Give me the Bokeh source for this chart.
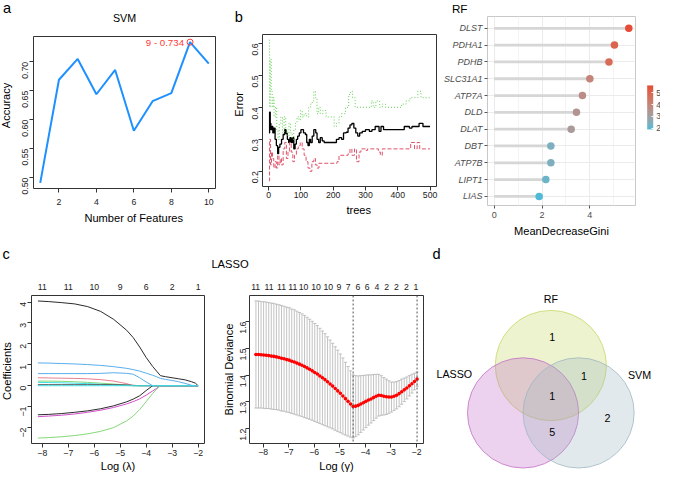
import numpy as np
from math import pi
from bokeh.plotting import figure
from bokeh.layouts import row, column
from bokeh.models import (Range1d, FixedTicker, NumeralTickFormatter, Label, LinearAxis,
                          ColumnDataSource, Span, LinearColorMapper, ColorBar,
                          CustomJSTickFormatter)
from bokeh.core.properties import value
from bokeh.embed import file_html
from bokeh.resources import INLINE

# ------------------------------------------------------------------ data
svm_features = [1, 2, 3, 4, 5, 6, 7, 8, 9, 10]
svm_accuracy = [0.491, 0.669, 0.705, 0.644, 0.686, 0.581, 0.632, 0.646, 0.734, 0.697]

oob_trees = [1, 3, 5, 7, 10, 13, 16, 20, 24, 28, 31, 35, 40, 45, 50, 54, 58, 62, 66, 70,
             74, 78, 82, 86, 90, 95, 100, 108, 114, 118, 122, 126, 130, 135, 140, 146, 150,
             155, 160, 166, 172, 210, 218, 226, 232, 240, 246, 252, 258, 264, 270, 276, 282,
             290, 300, 312, 320, 330, 342, 348, 356, 366, 420, 436, 444, 456, 466, 478, 500]
oob_err = [0.320, 0.385, 0.350, 0.330, 0.340, 0.320, 0.335, 0.300, 0.280, 0.255, 0.275, 0.285,
           0.300, 0.315, 0.330, 0.318, 0.300, 0.290, 0.305, 0.290, 0.305, 0.270, 0.285, 0.300,
           0.310, 0.320, 0.330, 0.320, 0.315, 0.290, 0.280, 0.300, 0.290, 0.310, 0.330, 0.320,
           0.300, 0.290, 0.305, 0.295, 0.290, 0.300, 0.305, 0.300, 0.320, 0.322, 0.335, 0.345,
           0.350, 0.335, 0.320, 0.310, 0.320, 0.325, 0.330, 0.325, 0.330, 0.340, 0.325, 0.340,
           0.330, 0.330, 0.340, 0.335, 0.340, 0.340, 0.350, 0.340, 0.340]

cls1_trees = [1, 3, 6, 9, 12, 16, 20, 24, 28, 32, 36, 40, 45, 50, 55, 60, 65, 70, 75, 80, 86,
              92, 98, 104, 110, 116, 122, 128, 134, 140, 145, 150, 156, 212, 218, 246, 252, 258,
              266, 272, 280, 286, 300, 306, 340, 346, 352, 440, 452, 460, 468, 500]
cls1_err = [0.170, 0.300, 0.220, 0.260, 0.240, 0.210, 0.230, 0.210, 0.250, 0.220, 0.240, 0.220,
            0.270, 0.290, 0.240, 0.260, 0.290, 0.260, 0.230, 0.250, 0.270, 0.280, 0.290, 0.270,
            0.250, 0.230, 0.210, 0.200, 0.230, 0.240, 0.220, 0.210, 0.225, 0.230, 0.250, 0.255,
            0.270, 0.250, 0.270, 0.230, 0.260, 0.270, 0.265, 0.270, 0.260, 0.250, 0.270, 0.290,
            0.270, 0.290, 0.270, 0.270]

cls2_trees = [1, 3, 5, 8, 11, 14, 17, 21, 25, 29, 33, 38, 43, 48, 53, 58, 63, 68, 73, 78, 83,
              88, 94, 99, 104, 110, 118, 124, 130, 135, 140, 145, 150, 155, 160, 168, 178, 203,
              210, 218, 226, 238, 248, 254, 260, 268, 290, 318, 324, 332, 344, 352, 362, 412,
              426, 438, 462, 472, 500]
cls2_err = [0.610, 0.400, 0.550, 0.450, 0.400, 0.430, 0.370, 0.400, 0.330, 0.300, 0.350, 0.370,
            0.320, 0.370, 0.330, 0.310, 0.350, 0.320, 0.300, 0.330, 0.350, 0.370, 0.360, 0.390,
            0.370, 0.380, 0.370, 0.400, 0.410, 0.420, 0.450, 0.430, 0.380, 0.400, 0.380, 0.390,
            0.370, 0.340, 0.350, 0.370, 0.380, 0.400, 0.440, 0.450, 0.430, 0.400, 0.400, 0.420,
            0.400, 0.420, 0.400, 0.410, 0.400, 0.410, 0.420, 0.430, 0.450, 0.430, 0.430]

rf_genes = ["DLST", "PDHA1", "PDHB", "SLC31A1", "ATP7A", "DLD", "DLAT", "DBT", "ATP7B",
            "LIPT1", "LIAS"]
rf_gini = [5.63, 5.03, 4.80, 4.00, 3.69, 3.44, 3.22, 2.37, 2.37, 2.16, 1.88]
rf_legend_ticks = [2, 3, 4, 5]

lasso_loglam = [-8.17, -7.75, -7.25, -6.75, -6.25, -5.75, -5.25, -4.75, -4.5, -4.25, -4.0,
                -3.75, -3.6, -3.45, -3.25, -3.0, -2.75, -2.5, -2.25, -2.1, -2.0]
coef_01 = [4.05, 4.02, 3.97, 3.91, 3.78, 3.55, 3.17, 2.65, 2.30, 1.85, 1.35, 0.92, 0.70, 0.48,
           0.43, 0.38, 0.33, 0.28, 0.19, 0.12, 0.00]
coef_02 = [0.38, 0.37, 0.36, 0.35, 0.33, 0.29, 0.22, 0.10, 0.00, 0, 0, 0, 0, 0, 0, 0, 0, 0, 0, 0, 0]
coef_03 = [0.22, 0.22, 0.21, 0.19, 0.16, 0.12, 0.08, 0.03, 0.00, 0, 0, 0, 0, 0, 0, 0, 0, 0, 0, 0, 0]
coef_04 = [1.09, 1.08, 1.06, 1.04, 1.01, 0.97, 0.91, 0.83, 0.77, 0.70, 0.60, 0.50, 0.43, 0.35,
           0.30, 0.25, 0.19, 0.11, 0.02, 0.00, 0.00]
coef_05 = [0.16, 0.15, 0.14, 0.12, 0.10, 0.07, 0.04, 0.01, 0.00, 0, 0, 0, 0, 0, 0, 0, 0, 0, 0, 0, 0]
coef_06 = [-1.48, -1.45, -1.41, -1.35, -1.27, -1.17, -1.04, -0.87, -0.76, -0.63, -0.45, -0.25,
           -0.13, 0.00, 0, 0, 0, 0, 0, 0, 0]
coef_07 = [-1.39, -1.37, -1.33, -1.27, -1.20, -1.10, -0.96, -0.77, -0.64, -0.48, -0.23, 0.00,
           0, 0, 0, 0, 0, 0, 0, 0, 0]
coef_08 = [0.05, 0.05, 0.05, 0.05, 0.05, 0.05, 0.05, 0.04, 0.02, 0.00, 0, 0, 0, 0, 0, 0, 0, 0, 0, 0, 0]
coef_09 = [-2.50, -2.48, -2.44, -2.38, -2.30, -2.18, -2.00, -1.68, -1.45, -1.14, -0.76, -0.37,
           -0.17, 0.00, 0, 0, 0, 0, 0, 0, 0]
coef_10 = [0.58, 0.58, 0.58, 0.58, 0.58, 0.59, 0.62, 0.59, 0.55, 0.38, 0.18, 0.00, 0, 0, 0, 0,
           0, 0, 0, 0, 0]
coef_11 = [0] * 21
path_nz_at = [-8, -7, -6, -5, -4, -3, -2]
path_nz = ["11", "11", "10", "9", "6", "2", "1"]

cv_loglam = [-8.28, -8.18, -8.08, -7.98, -7.88, -7.78, -7.68, -7.58, -7.48, -7.38, -7.28, -7.18,
             -7.08, -6.98, -6.88, -6.78, -6.68, -6.58, -6.48, -6.38, -6.28, -6.18, -6.08, -5.98,
             -5.88, -5.78, -5.68, -5.58, -5.48, -5.38, -5.28, -5.18, -5.08, -4.98, -4.88, -4.78,
             -4.68, -4.58, -4.48, -4.38, -4.28, -4.18, -4.08, -3.98, -3.88, -3.78, -3.68, -3.58,
             -3.48, -3.38, -3.28, -3.18, -3.08, -2.98, -2.88, -2.78, -2.68, -2.58, -2.48, -2.38,
             -2.28, -2.18, -2.08, -1.98]
cv_mean = [1.477, 1.477, 1.476, 1.475, 1.474, 1.473, 1.471, 1.470, 1.468, 1.466, 1.463, 1.461,
           1.458, 1.456, 1.452, 1.449, 1.445, 1.441, 1.437, 1.432, 1.427, 1.422, 1.416, 1.410,
           1.404, 1.397, 1.390, 1.383, 1.375, 1.367, 1.359, 1.350, 1.341, 1.332, 1.322, 1.312,
           1.302, 1.292, 1.283, 1.284, 1.287, 1.292, 1.297, 1.302, 1.307, 1.311, 1.316, 1.321,
           1.325, 1.324, 1.321, 1.319, 1.318, 1.318, 1.321, 1.325, 1.331, 1.338, 1.345, 1.352,
           1.360, 1.368, 1.376, 1.385]
cv_se = [0.200, 0.200, 0.199, 0.199, 0.199, 0.198, 0.198, 0.198, 0.197, 0.197, 0.197, 0.196,
         0.196, 0.196, 0.195, 0.195, 0.194, 0.193, 0.192, 0.191, 0.189, 0.187, 0.185, 0.183,
         0.181, 0.178, 0.175, 0.172, 0.168, 0.164, 0.160, 0.156, 0.152, 0.147, 0.142, 0.136,
         0.130, 0.124, 0.118, 0.114, 0.110, 0.106, 0.102, 0.098, 0.094, 0.090, 0.086, 0.082,
         0.078, 0.074, 0.070, 0.066, 0.061, 0.056, 0.053, 0.051, 0.049, 0.047, 0.044, 0.041,
         0.038, 0.035, 0.031, 0.027]
cv_nz_at = [-8.29, -7.77, -7.28, -6.84, -6.42, -5.93, -5.45, -5.04, -4.67, -4.29, -3.93, -3.55,
            -3.17, -2.79, -2.40, -2.02]
cv_nz = ["11", "11", "11", "11", "10", "10", "10", "9", "7", "6", "6", "4", "2", "2", "2", "1"]

venn_sets = ["RF", "LASSO", "SVM"]
venn_regions = ["RF", "RF&SVM", "RF&LASSO&SVM", "LASSO&SVM", "SVM"]
venn_counts = [1, 1, 1, 5, 2]

# ------------------------------------------------------------------ layout helpers
KX = 660.0 / 676.0
KY = 474.0 / 490.0
KF = (KX + KY) / 2.0
FONT = "Liberation Sans"
NB = "\u00a0"


def fs(v):
    return f"{v * KF:.1f}px"


def txt_h(size):
    return 1.12 * size * KF


class Panel:
    def __init__(self, box, frame, x_range, y_range, **kw):
        X0, Y0, X1, Y1 = box
        FX0, FY0, FX1, FY1 = frame
        px0, px1 = round(X0 * KX), round(X1 * KX)
        py0, py1 = round(Y0 * KY), round(Y1 * KY)
        fx0, fx1 = round(FX0 * KX), round(FX1 * KX)
        fy0, fy1 = round(FY0 * KY), round(FY1 * KY)
        self.fx0, self.fy0, self.fy1 = fx0, fy0, fy1
        self.py0 = py0
        self.fw, self.fh = fx1 - fx0, fy1 - fy0
        self.top = fy0 - py0
        self.p = figure(width=px1 - px0, height=py1 - py0, x_range=x_range, y_range=y_range,
                        output_backend="svg", toolbar_location=None,
                        min_border_left=fx0 - px0, min_border_right=px1 - fx1,
                        min_border_top=fy0 - py0, min_border_bottom=py1 - fy1, **kw)
        self.p.background_fill_color = "white"
        self.p.border_fill_color = "white"

    def title(self, text, Xleft, Ytop, size, extra=0, center=False):
        """Title above the frame; Xleft = text left edge, Ytop = text top (reference px)."""
        t = self.p.title
        t.text = text
        t.vertical_align = "top"
        if center:
            t.align = "center"
        else:
            t.align = "left"
            t.offset = Xleft * KX - self.fx0
        want_top = Ytop * KY - self.py0
        t.standoff = max(0, int(round(self.top - extra - want_top - 2 - txt_h(size))))
        t.text_font = FONT
        t.text_font_size = fs(size)
        t.text_font_style = "normal"
        t.text_color = "black"


def text_fig(box, items):
    """A plain figure whose frame is its whole canvas, used for free texts."""
    X0, Y0, X1, Y1 = box
    w = round(X1 * KX) - round(X0 * KX)
    h = round(Y1 * KY) - round(Y0 * KY)
    p = figure(width=w, height=h, x_range=Range1d(X0, X0 + w / KX),
               y_range=Range1d(Y0 + h / KY, Y0), output_backend="svg",
               toolbar_location=None, x_axis_type=None, y_axis_type=None,
               min_border_left=0, min_border_right=0, min_border_top=0, min_border_bottom=0)
    p.outline_line_color = None
    p.grid.visible = False
    p.background_fill_color = "white"
    p.border_fill_color = "white"
    for (x, y, t, size, align, angle) in items:
        p.text(x=[x], y=[y], text=[t], text_align=align, text_baseline="middle", angle=angle,
               text_font=value(FONT), text_font_size=value(fs(size)), text_color="black")
    return p


def r_range(vals, f=0.04):
    lo, hi = float(np.min(vals)), float(np.max(vals))
    d = (hi - lo) * f
    return Range1d(lo - d, hi + d)


def style_axis_label(ax, text, standoff, size=11.4):
    ax.axis_label = text
    ax.axis_label_standoff = int(standoff)
    ax.axis_label_text_font = FONT
    ax.axis_label_text_font_size = fs(size)
    ax.axis_label_text_font_style = "normal"
    ax.axis_label_text_color = "black"


def r_style(p, xticks, yticks, yfmt=None, xs=2, ys=3):
    p.outline_line_color = "#333333"
    p.outline_line_width = 1
    p.grid.visible = False
    p.xaxis.ticker = FixedTicker(ticks=xticks)
    p.yaxis.ticker = FixedTicker(ticks=yticks)
    if yfmt:
        p.yaxis.formatter = NumeralTickFormatter(format=yfmt)
    for ax in list(p.xaxis) + list(p.yaxis):
        ax.axis_line_color = None
        ax.major_tick_line_color = "#333333"
        ax.major_tick_out = 4
        ax.major_tick_in = 0
        ax.minor_tick_line_color = None
        ax.major_label_text_font = FONT
        ax.major_label_text_font_size = fs(9)
        ax.major_label_text_color = "#222222"
    p.xaxis.major_label_standoff = int(xs)
    p.yaxis.major_label_standoff = int(ys)
    p.yaxis.major_label_orientation = pi / 2


def count_axis(p, at, labels):
    ax = LinearAxis(ticker=FixedTicker(ticks=at),
                    formatter=CustomJSTickFormatter(args=dict(at=at, labels=labels), code="""
        let best = 0;
        for (let i = 0; i < at.length; i++) {
            if (Math.abs(at[i] - tick) < Math.abs(at[best] - tick)) { best = i; }
        }
        return labels[best];
    """))
    ax.axis_line_color = None
    ax.major_tick_line_color = None
    ax.minor_tick_line_color = None
    ax.major_tick_out = 0
    ax.major_tick_in = 0
    ax.major_label_standoff = 6
    ax.major_label_text_font = FONT
    ax.major_label_text_font_size = fs(9)
    ax.major_label_text_color = "#222222"
    p.add_layout(ax, "above")


# ------------------------------------------------------------------ top-left texts
GA = text_fig((0, 0, 13, 248), [(2.5, 8, "a", 15, "left", 0.0),
                                (6, 108.5, "Accuracy", 11.4, "center", pi / 2)])

# ------------------------------------------------------------------ panel a : SVM
A = Panel((13, 0, 224, 248), (33.3, 37.7, 220, 194.3), r_range(svm_features),
          r_range(svm_accuracy))
pa = A.p
pa.line(svm_features, svm_accuracy, line_color="#1E90FF", line_width=2)
ib = int(np.argmax(svm_accuracy))
pa.scatter([svm_features[ib]], [svm_accuracy[ib]], marker="circle", size=6,
           fill_color=None, line_color="#FF3b3b", line_width=1)
pa.add_layout(Label(x=svm_features[ib], y=svm_accuracy[ib], x_offset=-6,
                    text=f"{svm_features[ib]} - {svm_accuracy[ib]:.3f}", text_align="right",
                    text_baseline="middle", text_color="#FF3b3b", text_font=FONT,
                    text_font_size=fs(10)))
r_style(pa, [2, 4, 6, 8, 10], [0.50, 0.55, 0.60, 0.65, 0.70], yfmt="0.00", xs=6, ys=4)
style_axis_label(pa.xaxis[0], NB * 6 + "Number of Features", 4)
A.title("SVM", 0, 1.5, 11, center=True)

# ------------------------------------------------------------------ panel b : RF error
B = Panel((224, 0, 451, 248), (268.3, 35, 446.7, 192.3), r_range([1, 500]),
          r_range(oob_err + cls1_err + cls2_err))
pb = B.p
pb.step(oob_trees, oob_err, mode="after", line_color="black", line_width=1.3)
pb.step(cls1_trees, cls1_err, mode="after", line_color="#DF536B", line_width=1,
        line_dash="4 2")
pb.step(cls2_trees, cls2_err, mode="after", line_color="#61D04F", line_width=1,
        line_dash="1 2")
r_style(pb, [0, 100, 200, 300, 400, 500], [0.2, 0.3, 0.4, 0.5, 0.6], yfmt="0.0", xs=1, ys=3)
style_axis_label(pb.xaxis[0], NB * 6 + "trees", 3)
style_axis_label(pb.yaxis[0], NB * 4 + "Error", 2)
B.title("b", 240, 0, 15)

# ------------------------------------------------------------------ panel RF lollipop
_M = np.array([[0.4124, 0.3576, 0.1805], [0.2126, 0.7152, 0.0722], [0.0193, 0.1192, 0.9505]])
_W = _M @ np.ones(3)


def _lin(c):
    return np.where(c <= 0.04045, c / 12.92, ((c + 0.055) / 1.055) ** 2.4)


def _gam(c):
    c = np.clip(c, 0, None)
    return np.where(c <= 0.0031308, 12.92 * c, 1.055 * np.power(c, 1 / 2.4) - 0.055)


def _f(t):
    return np.where(t > 0.008856, np.cbrt(t), 7.787 * t + 16 / 116)


def _finv(t):
    return np.where(t > 0.206893, t ** 3, (t - 16 / 116) / 7.787)


def hex2lab(h):
    rgb = np.array([int(h[i:i + 2], 16) for i in (1, 3, 5)]) / 255.0
    fx, fy, fz = _f(_M @ _lin(rgb) / _W)
    return np.array([116 * fy - 16, 500 * (fx - fy), 200 * (fy - fz)])


def lab2hex(lab):
    L, a, b = lab
    fy = (L + 16) / 116
    xyz = np.array([_finv(fy + a / 500), _finv(fy), _finv(fy - b / 200)]) * _W
    rgb = np.clip(np.round(_gam(np.linalg.solve(_M, xyz)) * 255), 0, 255).astype(int)
    return "#%02x%02x%02x" % tuple(rgb)


_lo, _hi = hex2lab("#4DBBD5"), hex2lab("#E64B35")
palette = [lab2hex(_lo + (_hi - _lo) * t) for t in np.linspace(0, 1, 256)]

ypos = list(range(len(rf_genes), 0, -1))
RF = Panel((451, 0, 676, 248), (496, 16.5, 650.7, 211.7), Range1d(-0.28, 5.91),
           Range1d(0.4585, 11.703))
pr = RF.p
src = ColumnDataSource(dict(gene=rf_genes, gini=rf_gini, y=ypos, zero=[0] * len(rf_gini)))
mapper = LinearColorMapper(palette=palette, low=min(rf_gini), high=max(rf_gini))
pr.segment(x0="zero", y0="y", x1="gini", y1="y", source=src, line_color="#d6d6d6",
           line_width=2.8)
pr.scatter(x="gini", y="y", source=src, size=7.5,
           fill_color={"field": "gini", "transform": mapper}, line_color=None)
pr.outline_line_color = "#c8c8c8"
pr.xaxis.ticker = FixedTicker(ticks=[0, 2, 4], minor_ticks=[1, 3, 5])
pr.yaxis.ticker = FixedTicker(ticks=ypos)
pr.yaxis.major_label_overrides = {y: g for y, g in zip(ypos, rf_genes)}
pr.xgrid.grid_line_color = "#ebebeb"
pr.xgrid.minor_grid_line_color = "#f4f4f4"
pr.ygrid.grid_line_color = "#ebebeb"
for ax in list(pr.xaxis) + list(pr.yaxis):
    ax.axis_line_color = None
    ax.major_tick_line_color = "#555555"
    ax.major_tick_out = 3
    ax.major_tick_in = 0
    ax.minor_tick_line_color = None
    ax.major_label_text_font = FONT
    ax.major_label_text_font_size = fs(9.3)
    ax.major_label_text_color = "#4d4d4d"
    ax.major_label_standoff = 2
pr.yaxis.major_label_text_font_style = "italic"
style_axis_label(pr.xaxis[0], "MeanDecreaseGini", 4)
cb = ColorBar(color_mapper=mapper, ticker=FixedTicker(ticks=rf_legend_ticks),
              location=(659.3 * KX - RF.fx0, RF.fy1 - 133.3 * KY), width=6,
              height=round(46 * KY), padding=0, margin=0, label_standoff=3,
              major_label_text_font=FONT, major_label_text_font_size=fs(8.5),
              major_label_text_color="#4d4d4d", major_tick_line_color="white",
              major_tick_in=2, major_tick_out=0, bar_line_color=None,
              border_line_color=None, background_fill_alpha=0)
pr.add_layout(cb)
RF.title("RF", 459.3, 2.5, 12)

# ------------------------------------------------------------------ bottom-left texts
GC = text_fig((0, 248, 13, 490), [(2, 261.7, "c", 15, "left", 0.0),
                                  (6.5, 383, "Coefficients", 11.4, "center", pi / 2)])

# ------------------------------------------------------------------ panel c left : paths
coef_paths = [coef_01, coef_02, coef_03, coef_04, coef_05, coef_06, coef_07, coef_08,
              coef_09, coef_10, coef_11]
path_colors = ["#2b2b2b", "#E8808F", "#86D879", "#5AAEEA", "#3FE0E6", "#D34FCB",
               "#2b2b2b", "#5a5a5a", "#86D879", "#5AAEEA", "#3FE0E6"]
CL = Panel((13, 248, 211, 490), (31.7, 305, 209.3, 460.7), r_range(lasso_loglam),
           r_range(sum(coef_paths, [])))
pc = CL.p
for path, col in zip(coef_paths, path_colors):
    pc.line(lasso_loglam, path, line_color=col, line_width=1)
r_style(pc, [-8, -7, -6, -5, -4, -3, -2], [-2, -1, 0, 1, 2, 3, 4], xs=2, ys=4)
style_axis_label(pc.xaxis[0], "Log (\u03bb)", 1)
count_axis(pc, path_nz_at, path_nz)

# ------------------------------------------------------------------ panel c right : CV
cvx = np.array(cv_loglam)
cvm = np.array(cv_mean)
cvs = np.array(cv_se)
CR = Panel((211, 248, 438, 490), (254.7, 305, 433, 461.5), r_range(cvx),
           r_range(np.concatenate([cvm - cvs, cvm + cvs])))
pcv = CR.p
barw = (cvx.max() - cvx.min()) * 0.01
pcv.segment(x0=cvx, y0=cvm - cvs, x1=cvx, y1=cvm + cvs, line_color="#b4b4b4", line_width=0.8)
pcv.segment(x0=cvx - barw, y0=cvm + cvs, x1=cvx + barw, y1=cvm + cvs, line_color="#b4b4b4",
            line_width=0.8)
pcv.segment(x0=cvx - barw, y0=cvm - cvs, x1=cvx + barw, y1=cvm - cvs, line_color="#b4b4b4",
            line_width=0.8)
pcv.scatter(cvx, cvm, size=3.6, color="red", line_color=None)
imin = int(np.argmin(cvm))
one_se = cvx[cvm <= cvm[imin] + cvs[imin]].max()
for loc in (cvx[imin], one_se):
    pcv.add_layout(Span(location=float(loc), dimension="height", line_color="#555555",
                        line_dash="2 2", line_width=1))
r_style(pcv, [-8, -7, -6, -5, -4, -3, -2], [1.2, 1.3, 1.4, 1.5, 1.6], yfmt="0.0", xs=1,
        ys=2)
style_axis_label(pcv.xaxis[0], "Log (\u03b3)", 2)
style_axis_label(pcv.yaxis[0], "Binomial Deviance", 0)
count_axis(pcv, cv_nz_at, cv_nz)
CR.title("LASSO", 216, 255.5, 11.5, extra=6 + txt_h(9))

# ------------------------------------------------------------------ panel d : Venn
D = Panel((438, 248, 676, 490), (438, 248, 676, 490), Range1d(438, 676), Range1d(490, 248),
          x_axis_type=None, y_axis_type=None)
pd_ = D.p
pd_.outline_line_color = None
pd_.grid.visible = False
R0 = 57.0
CX, CY, DX, DY = 563.5, 426.3, 28.5, 49.0
centers = {"RF": (CX, CY - DY), "LASSO": (CX - DX, CY), "SVM": (CX + DX, CY)}
fills = {"RF": "#C5D65F", "LASSO": "#C069C6", "SVM": "#9EB6C0"}
for s in venn_sets:
    cx, cy = centers[s]
    pd_.ellipse(x=[cx], y=[cy], width=[2 * R0], height=[2 * R0], fill_color=fills[s],
                fill_alpha=0.3, line_color=fills[s], line_alpha=0.75, line_width=1)
name_pos = {"RF": (CX, CY - DY - 69), "LASSO": (CX - 99, CY - 40), "SVM": (CX + 91, CY - 39)}
pd_.text(x=[name_pos[s][0] for s in venn_sets], y=[name_pos[s][1] for s in venn_sets],
         text=venn_sets, text_align="center", text_baseline="middle",
         text_font=value(FONT), text_font_size=value(fs(11)), text_color="black")
reg_pos = {"RF": (CX + 1.5, CY - 78), "RF&SVM": (CX + 34, CY - 38),
           "RF&LASSO&SVM": (CX + 1.5, CY - 18), "LASSO&SVM": (CX + 1.5, CY + 19.7),
           "SVM": (CX + 58, CY + 5.4)}
pd_.text(x=[reg_pos[r][0] for r in venn_regions], y=[reg_pos[r][1] for r in venn_regions],
         text=[str(c) for c in venn_counts], text_align="center", text_baseline="middle",
         text_font=value(FONT), text_font_size=value(fs(11)), text_color="black")
pd_.text(x=[442], y=[261.7], text=["d"], text_align="left", text_baseline="middle",
         text_font=value(FONT), text_font_size=value(fs(15)), text_color="black")

# each figure sits in its own column so that the row does not align their frames
top = row(*[column(f) for f in (GA, A.p, B.p, RF.p)])
bottom = row(*[column(f) for f in (GC, CL.p, CR.p, D.p)])
layout = column(top, bottom)
open("out.html", "w").write(file_html(layout, INLINE))
